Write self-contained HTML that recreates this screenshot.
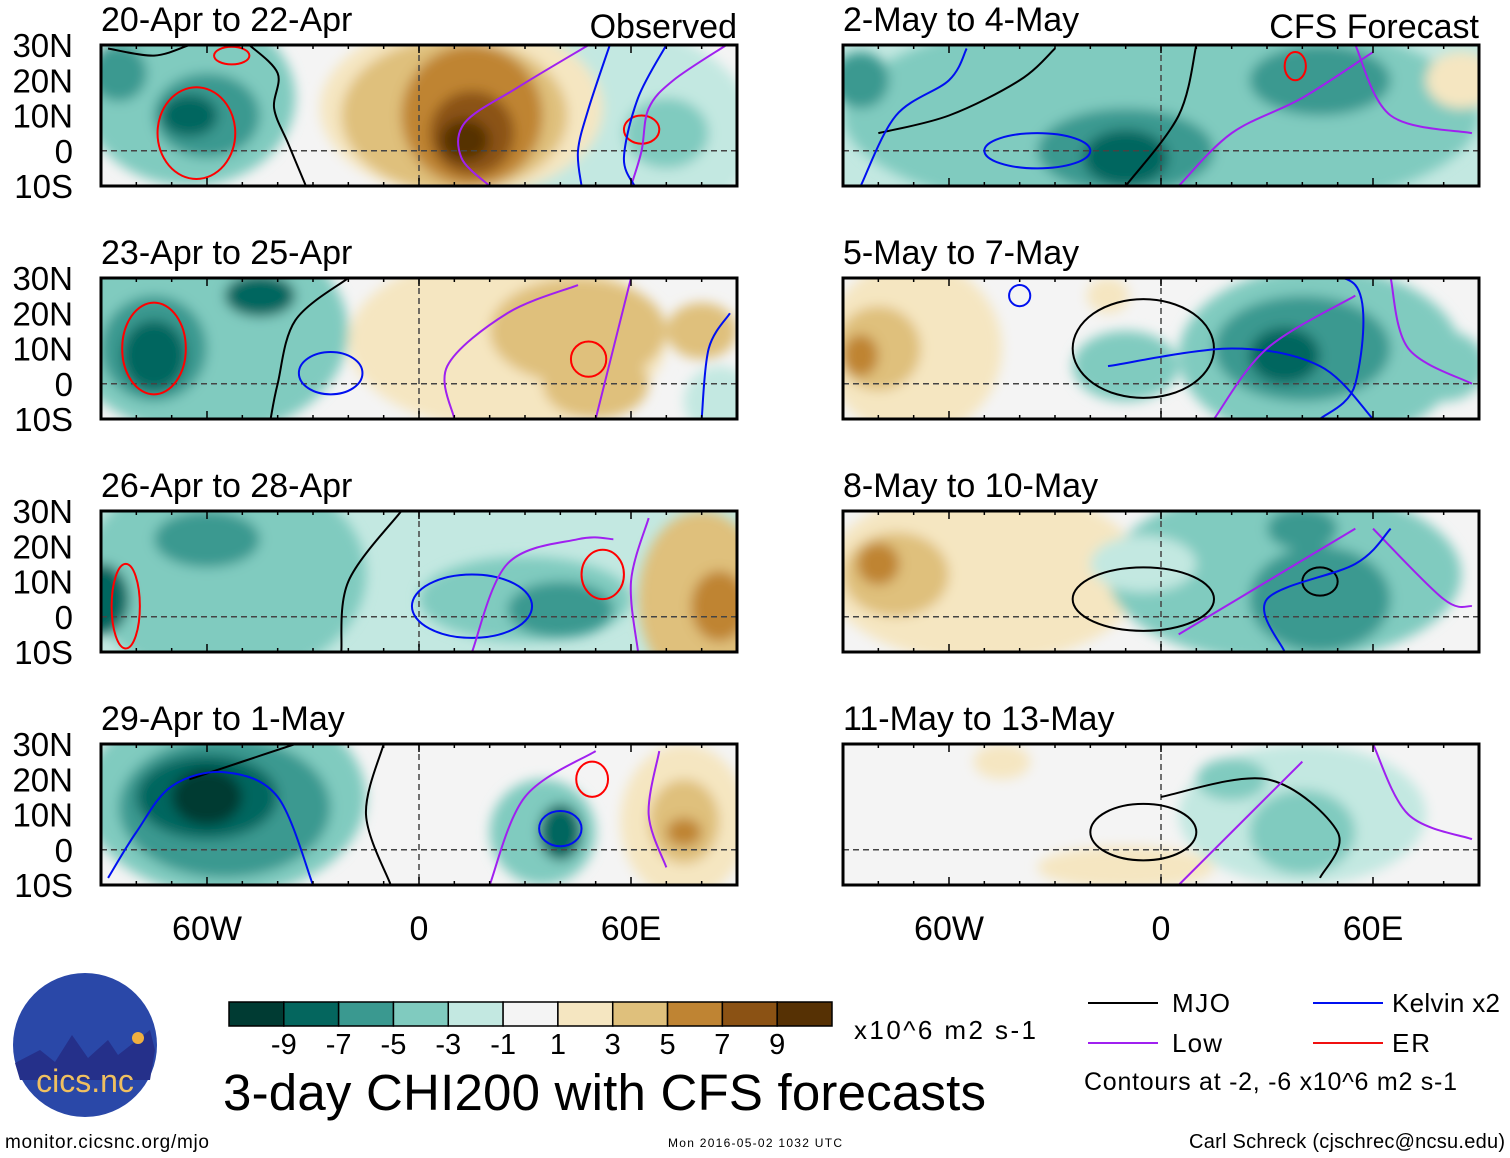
<!DOCTYPE html>
<html><head><meta charset="utf-8">
<style>
body{margin:0;background:#fff;width:1510px;height:1158px;overflow:hidden;font-family:"Liberation Sans",Arial,sans-serif}
svg{position:absolute;left:0;top:0}
</style></head>
<body>
<svg id="fig" width="1510" height="1158" viewBox="0 0 1510 1158">
<defs>
<filter id="bl" x="-50%" y="-50%" width="200%" height="200%"><feGaussianBlur stdDeviation="6"/></filter>
</defs>
<g id="panels"></g>
<g id="cbar"></g>
<g>
<circle cx="85" cy="1045" r="72" fill="#2a48a8"/>
<path d="M15 1063 L40 1050 L55 1062 L72 1035 L88 1058 L108 1040 L118 1055 L150 1030 L155 1050 L150 1080 L20 1080 Z" fill="#25308a"/>
<circle cx="138" cy="1038" r="6" fill="#f0b040"/>
<text x="85" y="1092" font-size="32" fill="#f0c060" text-anchor="middle">cics.nc</text>
</g>
<text x="5" y="1148" font-size="19" textLength="204">monitor.cicsnc.org/mjo</text>
<text x="223" y="1110" font-size="51" textLength="763">3-day CHI200 with CFS forecasts</text>
<text x="854" y="1039" font-size="26" textLength="182">x10^6 m2 s-1</text>
<text x="668" y="1147" font-size="12" textLength="174">Mon 2016-05-02 1032 UTC</text>
<text x="1189" y="1148" font-size="20" textLength="316">Carl Schreck (cjschrec@ncsu.edu)</text>
<g>
<line x1="1088" y1="1003" x2="1158" y2="1003" stroke="#000" stroke-width="2"/><text x="1172" y="1012" font-size="26" textLength="58">MJO</text>
<line x1="1313" y1="1003" x2="1383" y2="1003" stroke="#0010f0" stroke-width="2"/><text x="1392" y="1012" font-size="26" textLength="108">Kelvin x2</text>
<line x1="1088" y1="1043" x2="1158" y2="1043" stroke="#a020f0" stroke-width="2"/><text x="1172" y="1052" font-size="26" textLength="50">Low</text>
<line x1="1313" y1="1043" x2="1383" y2="1043" stroke="#f01010" stroke-width="2"/><text x="1392" y="1052" font-size="26" textLength="38">ER</text>
<text x="1084" y="1090" font-size="25" textLength="373">Contours at -2, -6 x10^6 m2 s-1</text>
</g>
</svg>
<script>
const levelColors=["#003b33","#04665e","#3a9990","#80cbbf","#c3e8e1","#f4f4f4","#f5e6c1","#dfc07c","#bf8433","#8b5214","#563104"];
const levelTicks=["-9","-7","-5","-3","-1","1","3","5","7","9"];
const panelTitles=["20-Apr to 22-Apr","23-Apr to 25-Apr","26-Apr to 28-Apr","29-Apr to 1-May","2-May to 4-May","5-May to 7-May","8-May to 10-May","11-May to 13-May"];
const panelBg=[5,5,4,5,4,5,5,5];
// blobs: [lon, lat, rxDeg, ryDeg, levelIndex]
const panelBlobs=[
 [[-65,15,30,25,3],[-60,10,15,12,2],[-65,10,8,6,1],[-85,22,8,8,2],[55,5,40,30,4],[70,5,12,10,3],[12,12,40,25,6],[10,10,32,22,7],[15,10,20,20,8],[15,5,12,12,9],[13,3,7,6,10]],
 [[-60,15,40,30,3],[-75,10,15,15,2],[-75,8,9,10,1],[-45,25,10,6,1],[25,12,45,25,6],[45,15,25,15,7],[50,0,15,10,7],[80,15,10,8,7],[85,-5,10,10,4]],
 [[-55,12,40,30,3],[-60,22,15,8,2],[-90,5,8,10,1],[30,5,30,12,3],[40,2,15,8,2],[80,5,18,25,7],[85,3,8,10,8]],
 [[-55,15,40,28,3],[-55,12,30,20,2],[-60,15,20,12,1],[-60,15,10,8,0],[35,5,15,15,3],[40,5,6,8,1],[75,8,18,22,6],[75,8,10,12,7],[75,5,5,4,8]],
 [[0,10,90,30,3],[-10,0,25,12,2],[-10,-2,12,8,1],[45,20,20,10,2],[85,20,10,8,6],[-85,20,8,8,2]],
 [[-70,10,25,25,6],[-80,10,12,12,7],[-85,8,5,6,8],[-15,25,6,5,6],[45,8,40,25,3],[40,10,25,15,2],[35,8,10,8,1],[-10,5,15,10,3],[80,5,12,10,3]],
 [[-50,12,45,25,6],[-75,12,15,12,7],[-80,15,6,6,8],[35,12,50,25,3],[45,5,20,15,2],[40,25,10,6,2],[-5,15,15,8,4]],
 [[40,10,35,20,4],[40,5,15,12,3],[20,20,10,6,3],[-10,-5,25,6,6],[-45,25,8,5,6]]
];
// contours: ['line', color, [[lon,lat],...]] or ['ell', color, [lon,lat,rxDeg,ryDeg]]
const panelContours=[
 [['line','#000',[[-48,30],[-40,22],[-41,12],[-37,2],[-32,-10]]],['line','#000',[[-65,30],[-75,27],[-88,29]]],['ell','#f00',[-63,5,11,13]],['ell','#f00',[-53,27,5,2.5]],['ell','#f00',[63,6,5,4]],
  ['line','#a020f0',[[48,30],[28,18],[13,8],[12,-2],[20,-10]]],['line','#a020f0',[[87,30],[72,20],[65,12],[63,0],[60,-10]]],['line','#0010f0',[[54,30],[48,12],[45,0],[46,-10]]],['line','#0010f0',[[70,30],[62,15],[58,-2],[61,-10]]]],
 [['ell','#f00',[-75,10,9,13]],['ell','#0010f0',[-25,3,9,6]],['ell','#f00',[48,7,5,5]],['line','#000',[[-20,30],[-35,18],[-40,0],[-42,-10]]],['line','#a020f0',[[10,-10],[8,5],[25,20],[45,28]]],['line','#a020f0',[[50,-10],[55,10],[60,30]]],['line','#0010f0',[[80,-10],[82,10],[88,20]]]],
 [['ell','#f00',[-83,3,4,12]],['ell','#0010f0',[15,3,17,9]],['ell','#f00',[52,12,6,7]],['line','#000',[[-5,30],[-20,10],[-22,-10]]],['line','#a020f0',[[15,-10],[25,15],[45,22],[55,22]]],['line','#a020f0',[[62,-10],[60,10],[65,28]]]],
 [['line','#000',[[-65,20],[-50,25],[-35,30]]],['line','#0010f0',[[-88,-8],[-80,5],[-70,18],[-55,22],[-40,15],[-30,-10]]],['line','#000',[[-10,30],[-15,10],[-8,-10]]],['ell','#f00',[49,20,4.5,5]],['ell','#0010f0',[40,6,6,5]],['line','#a020f0',[[20,-10],[30,15],[50,28]]],['line','#a020f0',[[70,-5],[65,10],[68,28]]]],
 [['line','#000',[[-80,5],[-60,10],[-40,20],[-30,29]]],['line','#000',[[-10,-10],[5,10],[10,30]]],['line','#0010f0',[[-85,-10],[-75,10],[-60,20],[-55,29]]],['ell','#0010f0',[-35,0,15,5]],['ell','#f00',[38,24,3,4]],['line','#a020f0',[[5,-10],[20,5],[40,15],[60,28]]],['line','#a020f0',[[55,30],[65,10],[88,5]]]],
 [['ell','#000',[-5,10,20,14]],['ell','#0010f0',[-40,25,3,3]],['line','#0010f0',[[-15,5],[20,10],[45,5],[60,-10]]],['line','#0010f0',[[30,30],[55,28],[55,0],[45,-10]]],['line','#a020f0',[[15,-10],[30,10],[55,25]]],['line','#a020f0',[[65,30],[70,10],[88,0]]]],
 [['ell','#000',[-5,5,20,9]],['ell','#000',[45,10,5,4]],['line','#a020f0',[[5,-5],[30,10],[55,25]]],['line','#a020f0',[[60,25],[80,5],[88,3]]],['line','#0010f0',[[35,-10],[30,5],[55,15],[65,25]]]],
 [['ell','#000',[-5,5,15,8]],['line','#000',[[0,15],[30,20],[50,5],[45,-8]]],['line','#a020f0',[[5,-10],[20,5],[40,25]]],['line','#a020f0',[[60,30],[70,10],[88,3]]]]
];
const NS="http://www.w3.org/2000/svg";
function el(tag,attrs,parent){const e=document.createElementNS(NS,tag);for(const k in attrs)e.setAttribute(k,attrs[k]);parent.appendChild(e);return e;}
const panelsG=document.getElementById('panels');
const PW=636,PH=141;
function panelOrigin(i){return {x:(i<4?101:843),y:45+(i%4)*233};}
function smooth(pts){let d='M'+pts[0][0]+' '+pts[0][1];
  for(let k=0;k<pts.length-1;k++){const p0=pts[k-1]||pts[k],p1=pts[k],p2=pts[k+1],p3=pts[k+2]||p2;
    d+=' C'+(p1[0]+(p2[0]-p0[0])/6)+' '+(p1[1]+(p2[1]-p0[1])/6)+' '+(p2[0]-(p3[0]-p1[0])/6)+' '+(p2[1]-(p3[1]-p1[1])/6)+' '+p2[0]+' '+p2[1];}
  return d;}
panelTitles.forEach((t,i)=>{
  const o=panelOrigin(i);
  const g=el('g',{},panelsG);
  
  
  const xs=lon=>o.x+(lon+90)/180*PW, ys=lat=>o.y+(30-lat)/40*PH;
  const cid='clip'+i;
  const cp=el('clipPath',{id:cid},g);el('rect',{x:o.x,y:o.y,width:PW,height:PH},cp);
  const inner=el('g',{'clip-path':'url(#'+cid+')'},g);
  el('rect',{x:o.x,y:o.y,width:PW,height:PH,fill:levelColors[panelBg[i]]},inner);
  const bg=el('g',{filter:'url(#bl)'},inner);
  panelBlobs[i].forEach(b=>{
    const e=el('ellipse',{cx:xs(b[0]),cy:ys(b[1]),rx:b[2]/180*PW,ry:b[3]/40*PH,fill:levelColors[b[4]]},bg);
    
    
  });
  el('line',{x1:o.x,x2:o.x+PW,y1:ys(0),y2:ys(0),stroke:'#444','stroke-dasharray':'6,4','stroke-width':1.5},inner);
  el('line',{x1:xs(0),x2:xs(0),y1:o.y,y2:o.y+PH,stroke:'#444','stroke-dasharray':'6,4','stroke-width':1.5},inner);
  panelContours[i].forEach(c=>{
    let e;
    if(c[0]=='ell'){const q=c[2];e=el('ellipse',{cx:xs(q[0]),cy:ys(q[1]),rx:q[2]/180*PW,ry:q[3]/40*PH,fill:'none',stroke:c[1],'stroke-width':2},inner);}
    else{e=el('path',{d:smooth(c[2].map(p=>[xs(p[0]),ys(p[1])])),fill:'none',stroke:c[1],'stroke-width':2},inner);}
    
    
  });
  el('rect',{x:o.x,y:o.y,width:PW,height:PH,fill:'none',stroke:'#000','stroke-width':3},g);
  for(let lon=-90;lon<=90;lon+=10){const x=xs(lon);const L=(lon%60==0)?8:4;
    el('line',{x1:x,x2:x,y1:o.y,y2:o.y+L,stroke:'#000','stroke-width':1.5},g);
    el('line',{x1:x,x2:x,y1:o.y+PH,y2:o.y+PH-L,stroke:'#000','stroke-width':1.5},g);}
  const tt=el('text',{x:o.x,y:o.y-14,'font-size':'34'},g);tt.textContent=t;
  
  
  if(i<4){[["30N",30],["20N",20],["10N",10],["0",0],["10S",-10]].forEach(l=>{
    const tx=el('text',{x:73,y:ys(l[1])+12,'font-size':'33','text-anchor':'end'},g);tx.textContent=l[0];
    
    });}
  if(i%4==3){[["60W",-60],["0",0],["60E",60]].forEach(l=>{
    const tx=el('text',{x:xs(l[1]),y:940,'font-size':'34','text-anchor':'middle'},g);tx.textContent=l[0];
    
    });}
});
let h=el('text',{x:737,y:38,'font-size':'34','text-anchor':'end'},panelsG);h.textContent='Observed';


h=el('text',{x:1479,y:38,'font-size':'34','text-anchor':'end'},panelsG);h.textContent='CFS Forecast';


const cb=document.getElementById('cbar');const cx0=229,cw=603/levelColors.length;
levelColors.forEach((c,k)=>{const r=el('rect',{x:cx0+k*cw,y:1002,width:cw,height:24,fill:c,stroke:'#000','stroke-width':1.5},cb);
  
  });
levelTicks.forEach((t,k)=>{const tx=el('text',{x:cx0+(k+1)*cw,y:1054,'font-size':'29','text-anchor':'middle'},cb);tx.textContent=t;
  
  });
</script>
</body></html>
